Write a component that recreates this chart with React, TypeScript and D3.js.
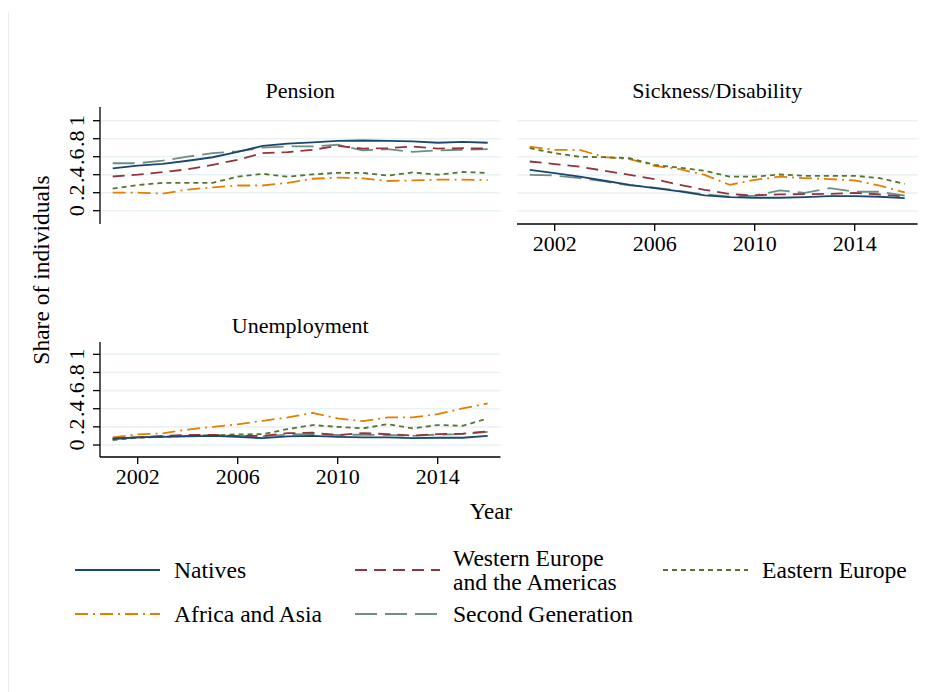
import React from "react";
import * as d3 from "d3";

const years = d3.range(2001, 2017);

const seriesNames = ["Natives", "Western Europe and the Americas", "Eastern Europe", "Africa and Asia", "Second Generation"];
const seriesColors = ["#1a476f", "#90353b", "#55752f", "#e37e00", "#6e8e84"];
const seriesDash = ["", "12 7", "5 4", "13 5 2 5", "22 8"];

// Pension
const pensionNatives = [0.47, 0.50, 0.52, 0.555, 0.594, 0.654, 0.72, 0.745, 0.76, 0.775, 0.78, 0.775, 0.77, 0.755, 0.765, 0.755];
const pensionWestern = [0.38, 0.40, 0.43, 0.46, 0.51, 0.565, 0.64, 0.65, 0.677, 0.72, 0.69, 0.695, 0.714, 0.69, 0.695, 0.69];
const pensionEastern = [0.245, 0.284, 0.31, 0.31, 0.31, 0.378, 0.41, 0.378, 0.404, 0.42, 0.42, 0.39, 0.425, 0.40, 0.43, 0.42];
const pensionAfrica = [0.20, 0.20, 0.19, 0.235, 0.26, 0.28, 0.28, 0.31, 0.355, 0.367, 0.36, 0.33, 0.337, 0.345, 0.345, 0.34];
const pensionSecond = [0.527, 0.527, 0.557, 0.60, 0.64, 0.66, 0.70, 0.714, 0.714, 0.733, 0.67, 0.684, 0.654, 0.67, 0.677, 0.684];

// Sickness/Disability
const sickNatives = [0.456, 0.42, 0.38, 0.335, 0.29, 0.254, 0.217, 0.173, 0.154, 0.147, 0.147, 0.154, 0.165, 0.165, 0.158, 0.143];
const sickWestern = [0.548, 0.52, 0.49, 0.445, 0.40, 0.353, 0.29, 0.235, 0.187, 0.173, 0.184, 0.187, 0.19, 0.20, 0.184, 0.16];
const sickEastern = [0.695, 0.64, 0.60, 0.596, 0.585, 0.51, 0.48, 0.445, 0.38, 0.38, 0.404, 0.39, 0.39, 0.39, 0.364, 0.30];
const sickAfrica = [0.713, 0.676, 0.676, 0.596, 0.574, 0.50, 0.463, 0.40, 0.29, 0.345, 0.38, 0.364, 0.353, 0.338, 0.28, 0.206];
const sickSecond = [0.40, 0.393, 0.364, 0.327, 0.283, 0.26, 0.224, 0.184, 0.16, 0.17, 0.228, 0.20, 0.254, 0.213, 0.213, 0.17];

// Unemployment
const unempNatives = [0.07, 0.085, 0.09, 0.095, 0.10, 0.09, 0.075, 0.095, 0.10, 0.09, 0.085, 0.085, 0.075, 0.08, 0.08, 0.10];
const unempWestern = [0.07, 0.085, 0.10, 0.11, 0.11, 0.10, 0.10, 0.13, 0.135, 0.11, 0.13, 0.12, 0.105, 0.12, 0.125, 0.15];
const unempEastern = [0.055, 0.08, 0.09, 0.10, 0.106, 0.117, 0.12, 0.176, 0.22, 0.20, 0.183, 0.23, 0.183, 0.22, 0.212, 0.293];
const unempAfrica = [0.084, 0.117, 0.128, 0.17, 0.20, 0.227, 0.267, 0.304, 0.355, 0.293, 0.264, 0.304, 0.304, 0.34, 0.403, 0.458];
const unempSecond = [0.065, 0.085, 0.095, 0.10, 0.105, 0.10, 0.095, 0.115, 0.12, 0.11, 0.115, 0.11, 0.10, 0.115, 0.12, 0.145];

const yTicks = [0, 0.2, 0.4, 0.6, 0.8, 1];
const yTickLabels = ["0", ".2", ".4", ".6", ".8", "1"];
const xTicks = [2002, 2006, 2010, 2014];

const FONT = "'Liberation Serif', 'Times New Roman', serif";
const GRID = "#eaf2f3";

type PanelDef = {
  title: string;
  x0: number; x1: number;
  yTop: number; yBottom: number;
  y0px: number; y1px: number;
  showY: boolean; showX: boolean;
  data: number[][];
};

const panels: PanelDef[] = [
  { title: "Pension", x0: 100, x1: 500.5, yTop: 107, yBottom: 224, y0px: 210.7, y1px: 120.7, showY: true, showX: false,
    data: [pensionNatives, pensionWestern, pensionEastern, pensionAfrica, pensionSecond] },
  { title: "Sickness/Disability", x0: 517, x1: 917.5, yTop: 107, yBottom: 224, y0px: 211, y1px: 120.7, showY: false, showX: true,
    data: [sickNatives, sickWestern, sickEastern, sickAfrica, sickSecond] },
  { title: "Unemployment", x0: 100, x1: 500.5, yTop: 342, yBottom: 457, y0px: 445, y1px: 354.3, showY: true, showX: true,
    data: [unempNatives, unempWestern, unempEastern, unempAfrica, unempSecond] },
];

function Panel({ p }: { p: PanelDef }) {
  const x = d3.scaleLinear().domain([2001, 2016]).range([p.x0 + 12.7, p.x0 + 387.7]);
  const y = d3.scaleLinear().domain([0, 1]).range([p.y0px, p.y1px]);
  const line = d3.line<number>().x((_, i) => x(years[i])).y((v) => y(v));
  const order = [4, 3, 2, 1, 0];
  return (
    <g>
      <text x={(p.x0 + p.x1) / 2} y={p.yTop - 9} textAnchor="middle" fontFamily={FONT} fontSize={22} fill="#000">{p.title}</text>
      {yTicks.map((t) => (
        <line key={"g" + t} x1={p.x0} x2={p.x1} y1={y(t)} y2={y(t)} stroke={GRID} strokeWidth={1.6} />
      ))}
      {order.map((si) => (
        <path key={si} d={line(p.data[si]) || ""} fill="none" stroke={seriesColors[si]} strokeWidth={1.8}
          strokeDasharray={seriesDash[si] || undefined} />
      ))}
      {p.showY && (
        <g>
          <line x1={p.x0} x2={p.x0} y1={p.yTop} y2={p.yBottom} stroke="#000" strokeWidth={1.3} />
          {yTicks.map((t, i) => (
            <g key={"yt" + t}>
              <line x1={p.x0 - 7} x2={p.x0} y1={y(t)} y2={y(t)} stroke="#000" strokeWidth={1.3} />
              <text transform={`translate(${p.x0 - 16},${y(t)}) rotate(-90)`} textAnchor="middle" fontFamily={FONT} fontSize={22} fill="#000">{yTickLabels[i]}</text>
            </g>
          ))}
        </g>
      )}
      {p.showX && (
        <g>
          <line x1={p.x0} x2={p.x1} y1={p.yBottom} y2={p.yBottom} stroke="#000" strokeWidth={1.3} />
          {xTicks.map((t) => (
            <g key={"xt" + t}>
              <line x1={x(t)} x2={x(t)} y1={p.yBottom} y2={p.yBottom + 7} stroke="#000" strokeWidth={1.3} />
              <text x={x(t)} y={p.yBottom + 27} textAnchor="middle" fontFamily={FONT} fontSize={22} fill="#000">{t}</text>
            </g>
          ))}
        </g>
      )}
    </g>
  );
}

const legendLayout = [
  { si: 0, lx: 75, ly: 570, tx: 174, lines: ["Natives"] },
  { si: 1, lx: 355, ly: 570, tx: 453, lines: ["Western Europe", "and the Americas"] },
  { si: 2, lx: 663, ly: 570, tx: 762, lines: ["Eastern Europe"] },
  { si: 3, lx: 75, ly: 614, tx: 174, lines: ["Africa and Asia"] },
  { si: 4, lx: 355, ly: 614, tx: 453, lines: ["Second Generation"] },
];

export default function App() {
  return (
    <div style={{ position: "absolute", left: 0, top: 0 }}>
      <svg width={938} height={692} style={{ display: "block", background: "#fff" }}>
        <rect x={0} y={0} width={938} height={692} fill="#fff" />
        <line x1={8.5} x2={8.5} y1={12} y2={692} stroke="#e8eff0" strokeWidth={1} />
        {panels.map((p) => <Panel key={p.title} p={p} />)}
        <text transform="translate(49,270) rotate(-90)" textAnchor="middle" fontFamily={FONT} fontSize={23.5} fill="#000">Share of individuals</text>
        <text x={491} y={519} textAnchor="middle" fontFamily={FONT} fontSize={23} fill="#000">Year</text>
        {legendLayout.map((l) => (
          <g key={l.si}>
            <line x1={l.lx} x2={l.lx + 85} y1={l.ly} y2={l.ly} stroke={seriesColors[l.si]} strokeWidth={1.8}
              strokeDasharray={seriesDash[l.si] || undefined} />
            {l.lines.map((s, k) => (
              <text key={k} x={l.tx} y={l.ly + 8 + (k - (l.lines.length - 1) / 2) * 24} fontFamily={FONT} fontSize={23.6} fill="#000">{s}</text>
            ))}
          </g>
        ))}
      </svg>
    </div>
  );
}
